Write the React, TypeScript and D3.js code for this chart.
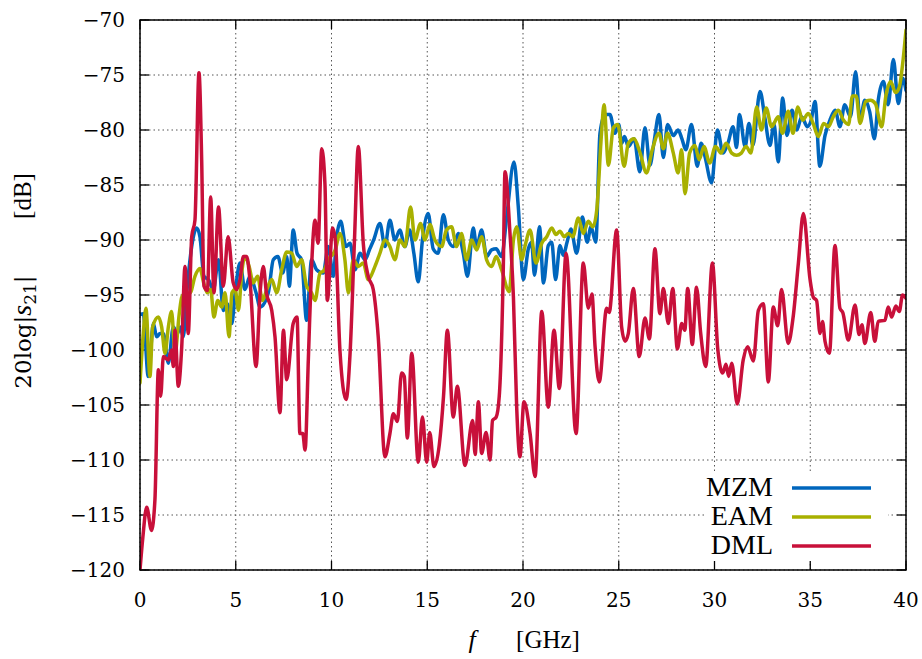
import React from "react";
import * as d3 from "d3";

const xTicks = [0, 5, 10, 15, 20, 25, 30, 35, 40];
const yTicks = [-70, -75, -80, -85, -90, -95, -100, -105, -110, -115, -120];

const seriesNames = ["MZM", "EAM", "DML"];
const seriesColors = ["#0066bd", "#a8b000", "#c8103a"];

const mzmFreq = [0, 0.17, 0.43, 0.7, 0.87, 1.05, 1.22, 1.48, 1.74, 1.95, 2.1, 2.26, 2.44, 2.7, 2.96, 3.13, 3.34, 3.57, 3.83, 4.1, 4.35, 4.55, 4.79, 4.97, 5.22, 5.48, 5.74, 6.06, 6.27, 6.7, 6.96, 7.2, 7.45, 7.66, 7.8, 8.0, 8.2, 8.44, 8.7, 8.96, 9.22, 9.57, 9.83, 10.1, 10.25, 10.48, 10.76, 10.97, 11.23, 11.49, 11.75, 12.0, 12.2, 12.53, 12.79, 13.05, 13.31, 13.57, 13.83, 14.08, 14.3, 14.53, 14.75, 15.05, 15.31, 15.57, 15.84, 16.1, 16.36, 16.62, 16.88, 17.1, 17.4, 17.58, 17.84, 18.1, 18.36, 18.6, 18.88, 19.15, 19.53, 19.75, 20.02, 20.28, 20.45, 20.6, 20.86, 21.07, 21.32, 21.5, 21.7, 21.93, 22.1, 22.3, 22.5, 22.8, 23.1, 23.35, 23.55, 23.8, 24.02, 24.28, 24.54, 24.8, 25.0, 25.15, 25.3, 25.5, 25.8, 26.1, 26.37, 26.63, 26.85, 27.1, 27.33, 27.55, 27.85, 28.1, 28.3, 28.5, 28.8, 29.1, 29.3, 29.5, 29.85, 30.15, 30.45, 30.7, 30.97, 31.15, 31.3, 31.6, 31.8, 32.0, 32.38, 32.63, 32.9, 33.1, 33.33, 33.56, 33.78, 34.05, 34.3, 34.55, 34.85, 35.05, 35.25, 35.5, 35.77, 36.05, 36.3, 36.55, 36.8, 37.1, 37.37, 37.6, 37.85, 38.1, 38.35, 38.55, 38.82, 39.07, 39.34, 39.6, 39.82, 40];
const mzmDb = [-96.8, -96.7, -102.4, -97.6, -98.8, -98.5, -98.5, -101.2, -97.9, -98.5, -97.9, -98.8, -94.8, -90.6, -88.9, -89.7, -93.3, -93.6, -94.5, -91.8, -96.4, -95.8, -97.6, -94.8, -92.1, -94.5, -93.3, -94.8, -96.1, -94.8, -91.8, -91.5, -93, -91.5, -94.2, -89.1, -91.2, -91.8, -97.3, -91.8, -92.7, -93, -90.6, -93.3, -90, -88.3, -90.6, -90.3, -92.7, -91.2, -91.8, -90.8, -90, -88.5, -90.6, -88.2, -90, -89.1, -90.6, -89.1, -91.2, -93.8, -90, -87.6, -90.8, -91.2, -87.7, -90, -90.6, -89.4, -91.2, -93.3, -88.9, -90.6, -89.1, -91.5, -90.9, -90.8, -91.5, -87.9, -82.9, -86.9, -93.6, -90.8, -90.2, -93.2, -88.8, -93.9, -90.5, -90.2, -93.6, -90.5, -91.4, -90.2, -89, -91.2, -87.9, -90.2, -88.8, -90.2, -80.3, -78.6, -78.6, -80.3, -79.5, -81.2, -80.6, -81.5, -80.8, -83.8, -79.8, -83.2, -81, -78.6, -82.5, -79.5, -80.5, -80, -80.8, -81.8, -79.5, -83.3, -81.2, -82.4, -84.8, -80, -82.1, -81.2, -79.7, -81.6, -78.6, -81.5, -79.4, -81.4, -76.5, -78.9, -81.4, -79.4, -82.9, -77.1, -80.5, -78.2, -80, -78.8, -79.7, -79.1, -77.4, -83.3, -80.5, -79, -78.2, -79.7, -77.7, -78.8, -74.7, -79.1, -77.3, -78.3, -80.8, -77.3, -75.6, -77.7, -73.6, -77.6, -75.3, -76.4];

const eamFreq = [0, 0.15, 0.31, 0.52, 0.66, 0.96, 1.13, 1.31, 1.48, 1.65, 1.83, 2.05, 2.18, 2.4, 2.62, 2.87, 3.13, 3.34, 3.52, 3.69, 3.86, 4.06, 4.27, 4.44, 4.65, 4.8, 4.97, 5.14, 5.31, 5.48, 5.7, 5.91, 6.14, 6.4, 6.62, 6.88, 7.14, 7.4, 7.66, 7.92, 8.18, 8.44, 8.7, 8.96, 9.14, 9.4, 9.6, 9.83, 10.2, 10.44, 10.7, 10.88, 11.14, 11.4, 11.66, 11.92, 12.27, 12.53, 12.79, 13.05, 13.31, 13.57, 13.83, 14.13, 14.36, 14.65, 14.88, 15.14, 15.4, 15.75, 16.0, 16.27, 16.53, 16.79, 17.05, 17.32, 17.58, 17.84, 18.1, 18.36, 18.6, 18.88, 19.28, 19.5, 19.67, 19.93, 20.1, 20.37, 20.68, 20.98, 21.24, 21.5, 21.72, 21.93, 22.15, 22.37, 22.6, 22.89, 23.15, 23.41, 23.65, 23.85, 24.1, 24.23, 24.46, 24.72, 24.95, 25.28, 25.5, 25.8, 26.1, 26.45, 26.75, 27.1, 27.33, 27.55, 27.85, 28.1, 28.28, 28.46, 28.7, 28.98, 29.2, 29.45, 29.75, 30.05, 30.35, 30.6, 30.9, 31.15, 31.4, 31.65, 31.9, 32.2, 32.45, 32.7, 32.98, 33.33, 33.55, 33.85, 34.1, 34.35, 34.6, 34.9, 35.15, 35.42, 35.7, 35.95, 36.2, 36.47, 36.73, 37.0, 37.2, 37.4, 37.6, 37.9, 38.15, 38.4, 38.73, 38.95, 39.2, 39.45, 39.65, 39.85, 40];
const eamDb = [-103, -99, -96.2, -102.4, -97.9, -97, -97.9, -100.3, -97.9, -96.5, -100.3, -96.7, -95.2, -94.8, -94.8, -93.3, -92.6, -94, -94.8, -94.5, -97, -95.5, -96.1, -94.8, -98.8, -94.8, -94.5, -96.4, -93, -91.5, -92.4, -93.9, -93.3, -95.5, -94.5, -93.6, -94.8, -92.7, -91.1, -91.2, -92.4, -91.8, -94.2, -94.8, -95.5, -93, -92.8, -91.8, -90.9, -89.4, -91.8, -94.8, -91.8, -92.4, -92.1, -93.6, -92.4, -91.2, -90, -90.6, -91.8, -90, -90.6, -87, -90, -88.5, -90, -88.6, -90, -90.6, -89.1, -88.8, -90.6, -89.4, -91.8, -90, -90.9, -89.7, -91.8, -92.4, -91.5, -92.7, -94.7, -90, -88.8, -91.8, -90.6, -89.1, -92.1, -90.3, -89.7, -88.9, -89.5, -89.2, -89.7, -89.4, -89.7, -88, -89.4, -88.3, -88.8, -87.3, -80.3, -77.7, -83.2, -79.8, -79.5, -83.3, -81.2, -80.8, -82, -83.9, -81.8, -80.3, -81.7, -80.3, -82.1, -83.9, -81.8, -85.8, -82.1, -81.4, -82.7, -81.5, -83, -81.5, -82.1, -81.2, -82.1, -82.3, -82.1, -81.5, -82.1, -77.9, -80, -78, -79.7, -78.8, -80.3, -78.3, -80.3, -77.9, -79.1, -78.5, -79.4, -80.6, -79.4, -79.7, -78.8, -78.2, -79.1, -79.5, -76.9, -76.9, -79.4, -77.4, -77.3, -77.6, -79.7, -76.9, -75.6, -76.6, -76.1, -73.6, -70.9];

const dmlFreq = [0, 0.15, 0.35, 0.6, 0.78, 0.96, 1.08, 1.22, 1.48, 1.65, 1.74, 1.83, 2.0, 2.18, 2.35, 2.52, 2.7, 2.87, 3.08, 3.22, 3.34, 3.52, 3.69, 3.86, 4.1, 4.35, 4.6, 4.87, 5.05, 5.22, 5.4, 5.57, 5.74, 6.06, 6.27, 6.44, 6.6, 6.88, 7.05, 7.31, 7.49, 7.66, 8.0, 8.2, 8.35, 8.5, 8.62, 8.79, 8.96, 9.14, 9.3, 9.49, 9.66, 9.78, 10.06, 10.2, 10.44, 10.76, 10.97, 11.2, 11.4, 11.66, 11.92, 12.18, 12.44, 12.79, 13.05, 13.23, 13.44, 13.66, 13.8, 13.96, 14.19, 14.53, 14.75, 14.97, 15.13, 15.35, 15.63, 15.85, 16.05, 16.36, 16.57, 16.97, 17.37, 17.5, 17.67, 17.84, 18.07, 18.28, 18.41, 18.6, 18.76, 18.97, 19.06, 19.32, 19.5, 19.67, 19.84, 20.05, 20.37, 20.63, 20.98, 21.32, 21.62, 21.9, 22.25, 22.77, 23.15, 23.41, 23.6, 23.76, 23.98, 24.37, 24.5, 24.89, 25.15, 25.33, 25.5, 25.76, 26.07, 26.37, 26.6, 26.89, 27.15, 27.33, 27.59, 27.82, 28.06, 28.29, 28.45, 28.6, 28.84, 29.06, 29.28, 29.54, 29.89, 30.17, 30.43, 30.6, 30.74, 30.9, 31.19, 31.5, 31.73, 32.03, 32.29, 32.55, 32.81, 33.07, 33.3, 33.5, 33.85, 34.1, 34.38, 34.64, 34.99, 35.16, 35.33, 35.51, 35.64, 35.77, 36.0, 36.29, 36.55, 36.7, 36.99, 37.34, 37.55, 37.7, 37.85, 38.16, 38.37, 38.55, 38.9, 39.07, 39.25, 39.47, 39.65, 39.82, 40];
const dmlDb = [-120, -117, -114.3, -116.4, -113.6, -101.8, -104.2, -100.6, -100.9, -100, -101.5, -98.2, -103.3, -99.7, -92.4, -98.5, -89.7, -88.2, -74.8, -82.7, -94.2, -94.6, -86.1, -94.8, -87, -94.2, -89.7, -93.9, -94.5, -93.6, -91.5, -91.5, -93.6, -101.5, -94.8, -92.4, -94.8, -96.4, -98.8, -105.7, -98.2, -102.7, -97.6, -97, -107.6, -107.6, -109.1, -100.9, -92.4, -88.2, -90.3, -81.7, -85, -95.5, -88.9, -90, -100, -104.5, -100.3, -90, -81.5, -90.3, -93.3, -94.5, -98.8, -109.7, -107.6, -105.8, -106.5, -102.1, -102.4, -108, -100.3, -110.2, -106.1, -110.2, -107.5, -110.6, -108.6, -104.2, -98.2, -106.1, -103.3, -110.5, -106.4, -109.5, -104.7, -109.4, -107.5, -110, -106.4, -106.1, -104.2, -92.7, -83.8, -89.4, -95.2, -105.2, -109.7, -104.7, -107.6, -111.5, -96.5, -105.2, -98.2, -103.5, -91.2, -107.6, -92.1, -96.2, -94.9, -99.6, -102.9, -96.2, -96.6, -89.1, -97.9, -99.2, -98.5, -94.4, -100.6, -97.1, -99, -90.8, -96.7, -94.4, -97.6, -94.4, -99.9, -97.6, -98.2, -94.4, -99.5, -94.3, -98.5, -101.5, -92.1, -99.9, -102.1, -101.3, -102.4, -101.2, -104.9, -100.9, -99.7, -101, -96.4, -95.8, -102.9, -96.1, -97.8, -94.5, -99.4, -97.1, -92.1, -87.6, -93.6, -95.2, -95.5, -98.5, -97.4, -99.2, -100.3, -90.5, -96.2, -96.6, -99.1, -95.9, -98.6, -97.7, -99.4, -96.6, -99.2, -97.4, -97.3, -96.1, -97, -96, -96.5, -95, -95.3];

const W = 922;
const H = 659;
const M = { left: 140, right: 16, top: 20, bottom: 89 };
const serif = "'DejaVu Serif', serif";
const times = "'Liberation Serif', 'Times New Roman', serif";

export default function App() {
  const x = d3.scaleLinear().domain([0, 40]).range([M.left, W - M.right]);
  const y = d3.scaleLinear().domain([-120, -70]).range([H - M.bottom, M.top]);
  const line = d3
    .line<[number, number]>()
    .x((d) => x(d[0]))
    .y((d) => y(d[1]))
    .curve(d3.curveMonotoneX);

  const series = [
    { freq: mzmFreq, db: mzmDb },
    { freq: eamFreq, db: eamDb },
    { freq: dmlFreq, db: dmlDb },
  ];

  const x0 = x(0), x1 = x(40), y0 = y(-120), y1 = y(-70);
  const tickLen = 9;

  return (
    <svg
      width={W}
      height={H}
      style={{ position: "absolute", left: 0, top: 0, background: "#fff" }}
    >
      <defs>
        <clipPath id="plotclip">
          <rect x={x0} y={y1} width={x1 - x0} height={y0 - y1} />
        </clipPath>
      </defs>
      <rect x={0} y={0} width={W} height={H} fill="#fff" />
      {xTicks.map((t) => (
        <line key={"gx" + t} x1={x(t)} x2={x(t)} y1={y0} y2={y1} stroke="#555" strokeWidth={1} strokeDasharray="1.5,3" />
      ))}
      {yTicks.map((t) => (
        <line key={"gy" + t} x1={x0} x2={x1} y1={y(t)} y2={y(t)} stroke="#555" strokeWidth={1} strokeDasharray="1.5,3" />
      ))}
      {xTicks.map((t) => (
        <g key={"tx" + t}>
          <line x1={x(t)} x2={x(t)} y1={y0} y2={y0 - tickLen} stroke="#000" strokeWidth={1.3} />
          <line x1={x(t)} x2={x(t)} y1={y1} y2={y1 + tickLen} stroke="#000" strokeWidth={1.3} />
          <text x={x(t)} y={y0 + 37} textAnchor="middle" fontFamily={serif} fontSize={20} fill="#000">
            {t}
          </text>
        </g>
      ))}
      {yTicks.map((t) => (
        <g key={"ty" + t}>
          <line x1={x0} x2={x0 + tickLen} y1={y(t)} y2={y(t)} stroke="#000" strokeWidth={1.3} />
          <line x1={x1} x2={x1 - tickLen} y1={y(t)} y2={y(t)} stroke="#000" strokeWidth={1.3} />
          <text x={x0 - 15} y={y(t) + 7} textAnchor="end" fontFamily={serif} fontSize={20} fill="#000">
            {t < 0 ? "\u2212" + Math.abs(t) : t}
          </text>
        </g>
      ))}
      <g clipPath="url(#plotclip)">
        {series.map((s, i) => (
          <path
            key={seriesNames[i]}
            d={line(s.freq.map((f, j) => [f, s.db[j]] as [number, number])) || ""}
            fill="none"
            stroke={seriesColors[i]}
            strokeWidth={3.5}
            strokeLinejoin="round"
            strokeLinecap="round"
          />
        ))}
      </g>
      <rect x={x0} y={y1} width={x1 - x0} height={y0 - y1} fill="none" stroke="#000" strokeWidth={1.5} />
      <rect x={705} y={473} width={183} height={88} fill="#fff" />
      {seriesNames.map((n, i) => (
        <g key={"lg" + n}>
          <text x={773} y={496 + i * 29} textAnchor="end" fontFamily={times} fontSize={28} fill="#000">
            {n}
          </text>
          <line x1={792} x2={871} y1={488 + i * 29} y2={488 + i * 29} stroke={seriesColors[i]} strokeWidth={3.5} />
        </g>
      ))}
      <text x={472} y={648} textAnchor="middle" fontFamily={times} fontStyle="italic" fontSize={26} fill="#000">
        f
      </text>
      <text x={548} y={648} textAnchor="middle" fontFamily={times} fontSize={25} fill="#000">
        [GHz]
      </text>
      <text transform="translate(31,196) rotate(-90)" textAnchor="middle" fontFamily={times} fontSize={25} fill="#000">
        [dB]
      </text>
      <text transform="translate(31,332) rotate(-90)" textAnchor="middle" fontFamily={serif} fontSize={23} fill="#000">
        20log|<tspan fontStyle="italic" fontFamily={times} fontSize={28}>s</tspan>
        <tspan fontSize={17} dy={5}>21</tspan>
        <tspan dy={-5}>|</tspan>
      </text>
    </svg>
  );
}
